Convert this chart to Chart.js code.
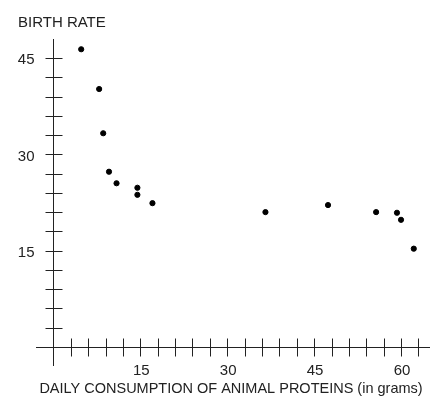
<!DOCTYPE html>
<html>
<head>
<meta charset="utf-8">
<script src="https://cdn.jsdelivr.net/npm/chart.js@4/dist/chart.umd.min.js"></script>
<style>
  html, body { margin: 0; padding: 0; background: #fff; }
  #wrap { width: 430px; height: 397px; position: relative; }
</style>
</head>
<body>
<div id="wrap"><canvas id="chart"></canvas></div>
<script>
// valores (proteina animal g/dia x taxa de natalidade)
let protein = [4.8, 7.9, 8.6, 9.6, 10.9, 14.5, 14.5, 17.1, 36.6, 47.4, 55.7, 59.3, 60.0, 62.2];
let birthRate = [46.4, 40.2, 33.3, 27.3, 25.5, 24.8, 23.7, 22.4, 21.0, 22.1, 21.0, 20.9, 19.8, 15.3];

let xTickLabels = [15, 30, 45, 60];
let yTickLabels = [15, 30, 45];
let xTitle = 'DAILY CONSUMPTION OF ANIMAL PROTEINS (in grams)';
let yTitle = 'BIRTH RATE';

const FONT = '15px "Liberation Sans", Arial, sans-serif';
const INK = '#222';

let points = protein.map((p, i) => { return {x: p, y: birthRate[i]} });

// desenha os eixos cruzando na origem, com marcas dos dois lados
const axesPlugin = {
	id: 'axesCross',
	afterDraw(chart) {
		const ctx = chart.ctx;
		const xs = chart.scales.x;
		const ys = chart.scales.y;
		const ox = Math.round(xs.getPixelForValue(0)) + 0.5;
		const oy = Math.round(ys.getPixelForValue(0)) + 0.5;

		ctx.save();
		ctx.strokeStyle = INK;
		ctx.lineWidth = 1;
		ctx.beginPath();
		ctx.moveTo(xs.left, oy); ctx.lineTo(xs.right, oy);
		ctx.moveTo(ox, ys.bottom); ctx.lineTo(ox, ys.top);

		for (let v = 3; v < xs.max; v += 3) {
			let px = Math.round(xs.getPixelForValue(v)) + 0.5;
			ctx.moveTo(px, oy - 9); ctx.lineTo(px, oy + 9);
		}
		for (let v = 3; v < ys.max; v += 3) {
			let py = Math.round(ys.getPixelForValue(v)) + 0.5;
			ctx.moveTo(ox - 8, py); ctx.lineTo(ox + 9, py);
		}
		ctx.stroke();

		ctx.fillStyle = INK;
		ctx.font = FONT;
		ctx.textBaseline = 'middle';
		ctx.textAlign = 'center';
		xTickLabels.forEach((v) => {
			ctx.fillText(String(v), xs.getPixelForValue(v) + 1, oy + 23);
		});
		ctx.textAlign = 'right';
		yTickLabels.forEach((v) => {
			ctx.fillText(String(v), ox - 19, ys.getPixelForValue(v) + 2);
		});

		ctx.textAlign = 'left';
		ctx.fillText(yTitle, 18, 23);
		ctx.textAlign = 'center';
		ctx.font = '14.5px "Liberation Sans", Arial, sans-serif';
		ctx.fillText(xTitle, 231, 389);
		ctx.restore();
	}
};

new Chart(document.getElementById('chart'), {
	type: 'scatter',
	data: {
		datasets: [{
			data: points,
			backgroundColor: '#000',
			borderColor: '#000',
			pointRadius: 2.6,
			pointHoverRadius: 2.6,
			clip: false
		}]
	},
	options: {
		responsive: true,
		maintainAspectRatio: false,
		animation: false,
		layout: { autoPadding: false, padding: { left: 36, right: 0, top: 39, bottom: 31 } },
		plugins: { legend: { display: false }, tooltip: { enabled: false } },
		scales: {
			x: { type: 'linear', min: -3, max: 65, display: false },
			y: { type: 'linear', min: -3, max: 48, display: false }
		}
	},
	plugins: [axesPlugin]
});
</script>
</body>
</html>
